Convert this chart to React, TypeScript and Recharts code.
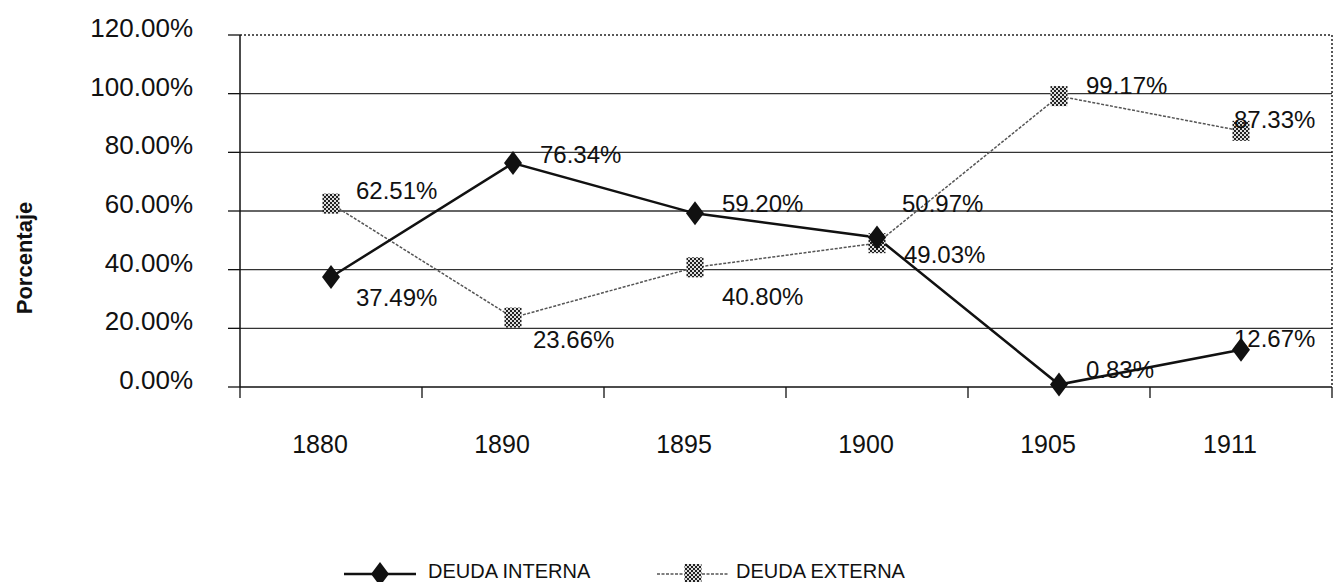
import React from 'react'
import { ComposedChart, Line, XAxis, YAxis, ReferenceLine, LabelList, Legend, Label } from 'recharts'

const FONT = '"Liberation Sans", Arial, sans-serif'

const years = ['1880', '1890', '1895', '1900', '1905', '1911']
const deudaInterna = [37.49, 76.34, 59.2, 50.97, 0.83, 12.67]
const deudaExterna = [62.51, 23.66, 40.8, 49.03, 99.17, 87.33]
const yTicks = [0, 20, 40, 60, 80, 100, 120]
const seriesNames = ['DEUDA INTERNA', 'DEUDA EXTERNA']

// label nudges [dx, dy] from each point, like the hand-moved excel labels
const internaNudge = [[25, 20], [27, -9], [27, -10], [25, -34], [27, -15], [-7, -11]]
const externaNudge = [[25, -13], [20, 22], [27, 29], [27, 11], [27, -11], [-7, -11]]

const data = years.map((year, i) => ({
  year,
  interna: deudaInterna[i],
  externa: deudaExterna[i],
}))

function diamondPath(cx: number, cy: number) {
  return `M${cx},${cy - 12} L${cx + 9},${cy} L${cx},${cy + 12} L${cx - 9},${cy} Z`
}

function DiamondDot(props: any) {
  const { cx, cy } = props
  if (cx == null || cy == null) return <g />
  return <path d={diamondPath(cx, cy)} fill="#111" />
}

function SquareDot(props: any) {
  const { cx, cy } = props
  if (cx == null || cy == null) return <g />
  return <rect x={cx - 8.5} y={cy - 10} width={17} height={20} fill="url(#chk)" />
}

function nudgedLabel(nudge: number[][]) {
  return (props: any) => {
    const vb = props.viewBox || {}
    const px = vb.x ?? props.x
    const py = vb.y ?? props.y
    const [dx, dy] = nudge[props.index] ?? [0, 0]
    return (
      <text x={px + dx} y={py + dy} dominantBaseline="central" fontSize={24} fill="#111" fontFamily={FONT}>
        {Number(props.value).toFixed(2)}%
      </text>
    )
  }
}

function YTick(props: any) {
  const { x, y, payload } = props
  return (
    <text x={x} y={y - 7} textAnchor="end" dominantBaseline="central" fontSize={26} fill="#111" fontFamily={FONT}>
      {Number(payload.value).toFixed(2)}%
    </text>
  )
}

function XTick(props: any) {
  const { x, y, payload, index } = props
  const band = (props.width ?? 1092) / (props.visibleTicksCount ?? years.length)
  const left = x - band / 2
  const right = x + band / 2
  return (
    <g>
      <line x1={left} y1={y} x2={left} y2={y + 11} stroke="#111" strokeWidth={1.3} />
      {index === years.length - 1 && (
        <line x1={right} y1={y} x2={right} y2={y + 11} stroke="#111" strokeWidth={1.3} />
      )}
      <text x={x - 11} y={y + 57} textAnchor="middle" dominantBaseline="central" fontSize={25} fill="#111" fontFamily={FONT}>
        {payload.value}
      </text>
    </g>
  )
}

function LegendContent() {
  const textStyle: React.CSSProperties = {
    position: 'absolute',
    top: 14,
    lineHeight: '30px',
    fontFamily: FONT,
    fontSize: 20,
    color: '#111',
    whiteSpace: 'nowrap',
  }
  const iconStyle: React.CSSProperties = { position: 'absolute', top: 18 }
  return (
    <div style={{ position: 'relative', width: 1333, height: 40 }}>
      <svg width={72} height={28} style={{ ...iconStyle, left: 344 }}>
        <line x1={0} y1={14} x2={72} y2={14} stroke="#111" strokeWidth={2.5} />
        <path d={diamondPath(36, 14)} fill="#111" />
      </svg>
      <span style={{ ...textStyle, left: 428 }}>{seriesNames[0]}</span>
      <svg width={72} height={28} style={{ ...iconStyle, left: 657 }}>
        <defs>
          <pattern id="chkL" width={4} height={4} patternUnits="userSpaceOnUse">
            <rect width={4} height={4} fill="#ddd" />
            <rect width={2} height={2} fill="#222" />
            <rect x={2} y={2} width={2} height={2} fill="#222" />
          </pattern>
        </defs>
        <line x1={0} y1={14} x2={72} y2={14} stroke="#555" strokeWidth={1.5} strokeDasharray="3 1.5" />
        <rect x={27.5} y={4} width={17} height={20} fill="url(#chkL)" />
      </svg>
      <span style={{ ...textStyle, left: 736 }}>{seriesNames[1]}</span>
    </div>
  )
}

export default function App() {
  return (
    <div style={{ position: 'absolute', left: 0, top: 0, background: '#fff' }}>
      <ComposedChart width={1333} height={582} data={data} margin={{ top: 35, right: 0, bottom: 0, left: 0 }}>
        <defs>
          <pattern id="chk" width={4} height={4} patternUnits="userSpaceOnUse">
            <rect width={4} height={4} fill="#ddd" />
            <rect width={2} height={2} fill="#222" />
            <rect x={2} y={2} width={2} height={2} fill="#222" />
          </pattern>
        </defs>
        <XAxis
          dataKey="year"
          scale="band"
          height={155}
          tickSize={0}
          tickMargin={0}
          tickLine={false}
          axisLine={{ stroke: '#111', strokeWidth: 1.3 }}
          tick={<XTick />}
          interval={0}
        />
        <YAxis
          yAxisId="l"
          width={240}
          domain={[0, 120]}
          ticks={yTicks}
          tickSize={12}
          tickMargin={35}
          tickLine={{ stroke: '#111', strokeWidth: 1.3 }}
          axisLine={{ stroke: '#111', strokeWidth: 1.5 }}
          tick={<YTick />}
        >
          <Label
            content={(p: any) => {
              const vb = p.viewBox || { x: 0, y: 35, height: 352 }
              const lx = vb.x + 24
              const ly = vb.y + vb.height / 2 + 47
              return (
                <text x={lx} y={ly} transform={`rotate(-90 ${lx} ${ly})`} textAnchor="middle" dominantBaseline="central" fontSize={22} fontWeight="bold" fill="#111" fontFamily={FONT}>
                  Porcentaje
                </text>
              )
            }}
          />
        </YAxis>
        <YAxis
          yAxisId="r"
          orientation="right"
          width={1}
          domain={[0, 120]}
          ticks={yTicks}
          tick={false}
          tickLine={false}
          axisLine={{ stroke: '#222', strokeWidth: 1.5, strokeDasharray: '2 2' }}
        />
        {yTicks.slice(1, -1).map((v) => (
          <ReferenceLine key={v} yAxisId="l" y={v} stroke="#333" strokeWidth={1.3} />
        ))}
        <ReferenceLine yAxisId="l" y={120} stroke="#222" strokeWidth={1.5} strokeDasharray="2 2" />
        <Line
          yAxisId="l"
          dataKey="externa"
          name={seriesNames[1]}
          stroke="#555"
          strokeWidth={1.5}
          strokeDasharray="3 1.5"
          dot={(p: any) => <SquareDot key={`e${p.index}`} {...p} />}
          activeDot={false}
          isAnimationActive={false}
        >
          <LabelList dataKey="externa" content={nudgedLabel(externaNudge)} />
        </Line>
        <Line
          yAxisId="l"
          dataKey="interna"
          name={seriesNames[0]}
          stroke="#111"
          strokeWidth={2.5}
          dot={(p: any) => <DiamondDot key={`i${p.index}`} {...p} />}
          activeDot={false}
          isAnimationActive={false}
        >
          <LabelList dataKey="interna" content={nudgedLabel(internaNudge)} />
        </Line>
        <Legend verticalAlign="bottom" height={40} content={<LegendContent />} />
      </ComposedChart>
    </div>
  )
}
